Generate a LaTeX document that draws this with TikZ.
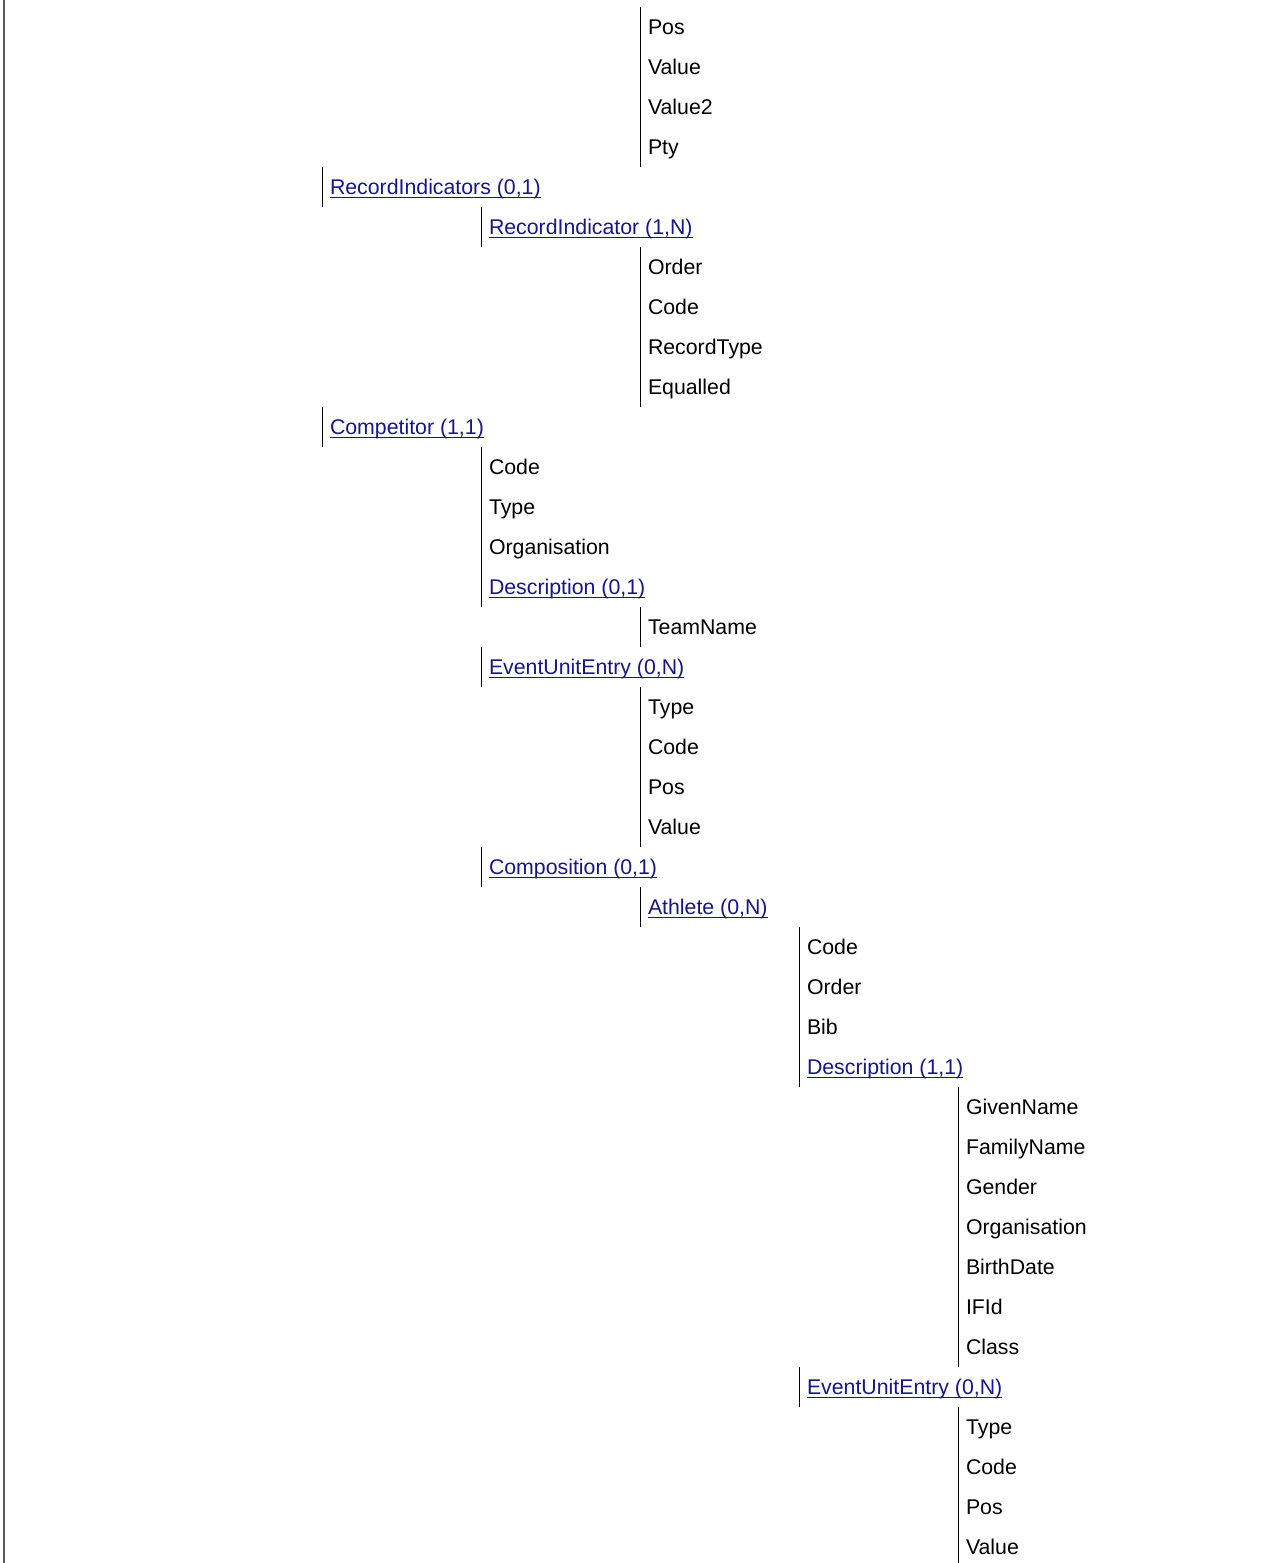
\documentclass[tikz,border=0pt]{standalone}
\usepackage{fontspec}
\setmainfont{Liberation Sans}
\definecolor{linkcol}{RGB}{22,22,140}
\definecolor{leftcol}{RGB}{90,90,90}
\tikzset{
  item/.style={anchor=base west, inner sep=0pt, outer sep=0pt, text=black,
    font=\fontsize{21.3}{25}\selectfont},
  linkitem/.style={item, text=linkcol},
  uline/.style={draw=linkcol, line width=1.3pt},
  vline/.style={draw=black, line width=1pt},
  leftline/.style={draw=leftcol, line width=2pt}
}
\newcommand{\vrun}[2]{\draw[vline] ([xshift=-8pt,yshift=27.5pt]#1.base west) -- ([xshift=-8pt,yshift=-12.5pt]#2.base west);}
\newcommand{\ul}[1]{\draw[uline] ([yshift=-2.8pt]#1.base west) -- ([yshift=-2.8pt]#1.base east);}
\begin{document}
\begin{tikzpicture}[x=1pt,y=-1pt]
\useasboundingbox (0,0) rectangle (1274,1563);
\draw[leftline] (4,0) -- (4,1563);
% rows: baseline = 34.5 + 40 i
\node[item] (pos1) at (648,34.5) {Pos};
\node[item] (val1) at (648,74.5) {Value};
\node[item] (valb1) at (648,114.5) {Value2};
\node[item] (pty) at (648,154.5) {Pty};
\node[linkitem] (recinds) at (330,194.5) {RecordIndicators (0,1)};
\node[linkitem] (recind) at (489,234.5) {RecordIndicator (1,N)};
\node[item] (order1) at (648,274.5) {Order};
\node[item] (code1) at (648,314.5) {Code};
\node[item] (rectype) at (648,354.5) {RecordType};
\node[item] (equalled) at (648,394.5) {Equalled};
\node[linkitem] (comp) at (330,434.5) {Competitor (1,1)};
\node[item] (code2) at (489,474.5) {Code};
\node[item] (type2) at (489,514.5) {Type};
\node[item] (org2) at (489,554.5) {Organisation};
\node[linkitem] (desc1) at (489,594.5) {Description (0,1)};
\node[item] (team) at (648,634.5) {TeamName};
\node[linkitem] (eue1) at (489,674.5) {EventUnitEntry (0,N)};
\node[item] (type3) at (648,714.5) {Type};
\node[item] (code3) at (648,754.5) {Code};
\node[item] (pos3) at (648,794.5) {Pos};
\node[item] (val3) at (648,834.5) {Value};
\node[linkitem] (compo) at (489,874.5) {Composition (0,1)};
\node[linkitem] (ath) at (648,914.5) {Athlete (0,N)};
\node[item] (code4) at (807,954.5) {Code};
\node[item] (order4) at (807,994.5) {Order};
\node[item] (bib) at (807,1034.5) {Bib};
\node[linkitem] (desc2) at (807,1074.5) {Description (1,1)};
\node[item] (given) at (966,1114.5) {GivenName};
\node[item] (family) at (966,1154.5) {FamilyName};
\node[item] (gender) at (966,1194.5) {Gender};
\node[item] (org5) at (966,1234.5) {Organisation};
\node[item] (birth) at (966,1274.5) {BirthDate};
\node[item] (ifid) at (966,1314.5) {IFId};
\node[item] (class) at (966,1354.5) {Class};
\node[linkitem] (eue2) at (807,1394.5) {EventUnitEntry (0,N)};
\node[item] (type6) at (966,1434.5) {Type};
\node[item] (code6) at (966,1474.5) {Code};
\node[item] (pos6) at (966,1514.5) {Pos};
\node[item] (val6) at (966,1554.5) {Value};
% underlines
\ul{recinds} \ul{recind} \ul{comp} \ul{desc1} \ul{eue1} \ul{compo} \ul{ath} \ul{desc2} \ul{eue2}
% vertical bars
\vrun{pos1}{pty}
\vrun{recinds}{recinds}
\vrun{recind}{recind}
\vrun{order1}{equalled}
\vrun{comp}{comp}
\vrun{code2}{desc1}
\vrun{team}{team}
\vrun{eue1}{eue1}
\vrun{type3}{val3}
\vrun{compo}{compo}
\vrun{ath}{ath}
\vrun{code4}{desc2}
\vrun{given}{class}
\vrun{eue2}{eue2}
\draw[vline] ([xshift=-8pt,yshift=27.5pt]type6.base west) -- ([xshift=-8pt]type6.base west |- 0,1563);
\end{tikzpicture}
\end{document}
